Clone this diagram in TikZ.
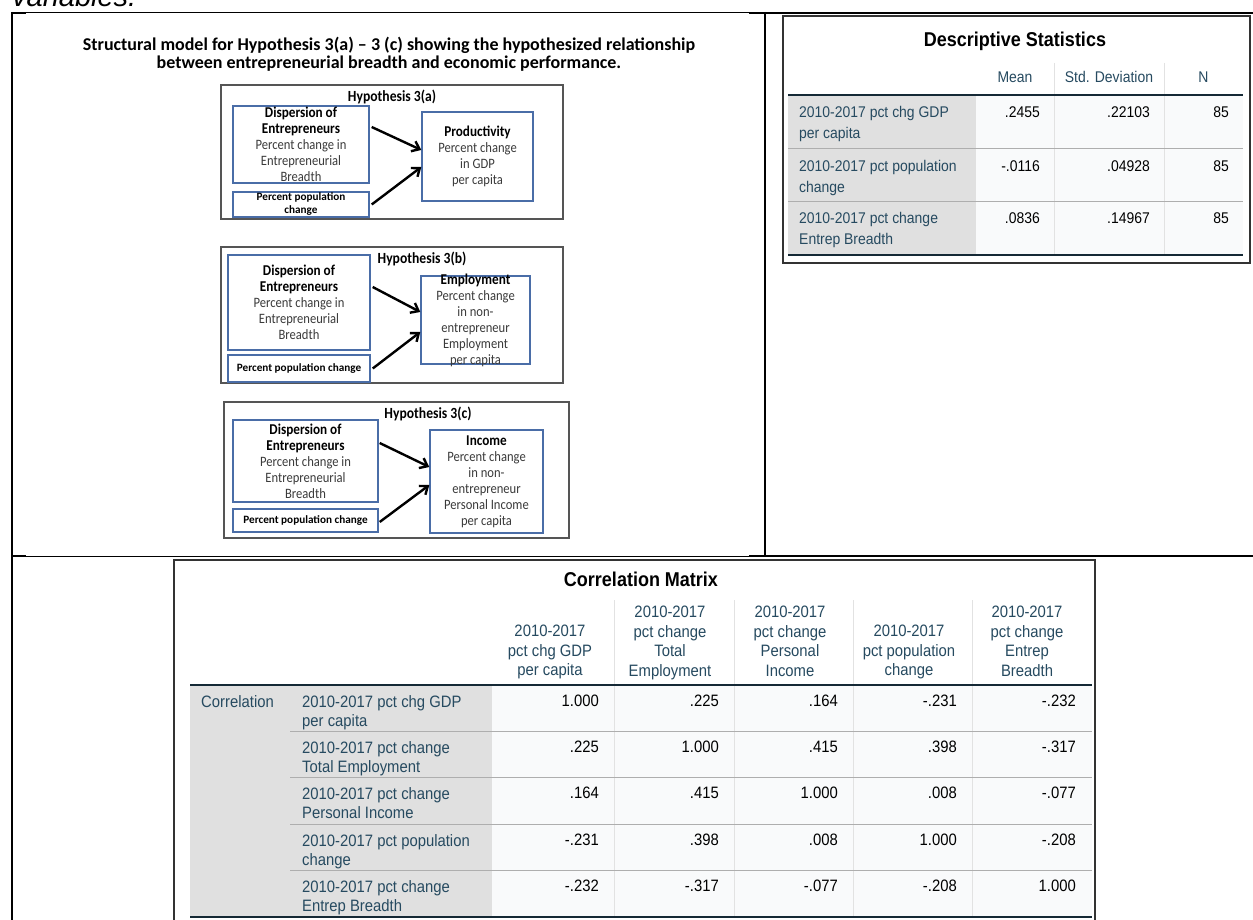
\documentclass[tikz,border=0pt]{standalone}
\usepackage{fontspec}
\setmainfont{Carlito}
\newfontfamily\diagfont[FakeStretch=0.88]{Carlito}
\newfontfamily\spssfont[FakeStretch=0.9]{Liberation Sans}
\newfontfamily\docfont{Liberation Sans}
\usetikzlibrary{arrows.meta}

\definecolor{hypBlue}{HTML}{4A6DA7}
\definecolor{frameGray}{HTML}{555555}
\definecolor{diagText}{HTML}{3A3A3A}
\definecolor{spssLabel}{HTML}{264A60}
\definecolor{spssGray}{HTML}{E0E0E0}
\definecolor{spssData}{HTML}{F9FAFB}
\definecolor{spssDark}{HTML}{152935}
\definecolor{spssRow}{HTML}{AEAEAE}
\definecolor{spssCol}{HTML}{E2E2E2}
\definecolor{tableFrame}{HTML}{333333}

\newcommand\hb[1]{\textcolor{black}{\fontsize{15}{16}\selectfont\bfseries #1}}

\begin{document}
\begin{tikzpicture}[x=1pt,y=-1pt,
  pagethin/.style={line width=1pt, black},
  pagethick/.style={line width=2.4pt, black},
  hframe/.style={draw=frameGray, line width=1.5pt},
  hbox/.style={draw=hypBlue, line width=1.4pt, inner sep=0pt, fill=white},
  htext/.style={align=center, text=diagText, inner sep=0pt,
    font=\diagfont\fontsize{14.3}{16}\selectfont},
  hsmall/.style={align=center, text=black, inner sep=0pt,
    font=\bfseries\fontsize{11.2}{13}\selectfont},
  htitle/.style={inner sep=0pt, text=black, font=\diagfont\bfseries\fontsize{15.5}{16}\selectfont},
  harrow/.style={-{Straight Barb[length=7pt,width=11pt]}, line width=2.4pt, black},
  tframe/.style={draw=tableFrame, line width=2.2pt},
  darksep/.style={draw=spssDark, line width=1.4pt},
  rowsep/.style={draw=spssRow, line width=1pt},
  colsep/.style={draw=spssCol, line width=1pt},
  dstitle/.style={inner sep=0pt, text=black, font=\spssfont\bfseries\fontsize{20}{24}\selectfont},
  dslab/.style={inner sep=0pt, align=left, text=spssLabel, font=\spssfont\fontsize{15.5}{21}\selectfont},
  dshead/.style={inner sep=0pt, align=center, text=spssLabel, font=\spssfont\fontsize{15.5}{21}\selectfont},
  dsval/.style={inner sep=0pt, text=black, font=\spssfont\fontsize{15.5}{21}\selectfont},
  cmlab/.style={inner sep=0pt, align=left, text=spssLabel, font=\spssfont\fontsize{16.5}{19.5}\selectfont},
  cmhead/.style={inner sep=0pt, align=center, text=spssLabel, font=\spssfont\fontsize{16.5}{19.5}\selectfont},
  cmval/.style={inner sep=0pt, text=black, font=\spssfont\fontsize{16.5}{19.5}\selectfont}
]
\clip (0,0) rectangle (1253,920);
\fill[white] (0,0) rectangle (1253,920);

% running text above the layout table
\node[anchor=base west, inner sep=0pt, font=\docfont\itshape\fontsize{29}{34}\selectfont] (prev) at (12,7) {variables.};

% layout table rules
\draw[pagethin] (12,13) -- (749,13);
\draw[pagethick] (749,13) -- (1253,13);
\draw[pagethick] (11,13) -- (26,13);
\draw[pagethin] (12,556) -- (749,556);
\draw[pagethick] (749,556) -- (1253,556);
\draw[pagethick] (11,556) -- (26,556);
\draw[pagethick] (12,12) -- (12,920);
\draw[pagethick] (765,12) -- (765,557);

% ---------- structural model ----------
\node[align=center, inner sep=0pt, text=black, font=\bfseries\fontsize{18}{18}\selectfont] (heading) at (389,54)
  {Structural model for Hypothesis 3(a) -- 3 (c) showing the hypothesized relationship\\
   between entrepreneurial breadth and economic performance.};

% Hypothesis 3(a)
\draw[hframe] (221,85) rectangle (563,219);
\node[htitle] (ta) at (392,97) {Hypothesis 3(a)};
\node[hbox, minimum width=136pt, minimum height=77pt] (da) at (301,144.5) {};
\node[htext] (dat) at (da) {\hb{Dispersion of}\\\hb{Entrepreneurs}\\Percent change in\\Entrepreneurial\\Breadth};
\node[hbox, minimum width=136pt, minimum height=25pt] (pa) at (301,204.5) {};
\node[hsmall] (pat) at (pa) {Percent population\\change};
\node[hbox, minimum width=111pt, minimum height=89pt] (oa) at (477.5,156.5) {};
\node[htext] (oat) at (oa) {\hb{Productivity}\\Percent change\\in GDP\\per capita};
\draw[harrow] ([xshift=2pt,yshift=17.5pt]da.east) -- ([yshift=6.5pt]oa.west);
\draw[harrow] ([xshift=2pt]pa.east) -- ([yshift=-10.5pt]oa.west);

% Hypothesis 3(b)
\draw[hframe] (221,247) rectangle (563,383);
\node[htitle] (tb) at (422,259) {Hypothesis 3(b)};
\node[hbox, minimum width=142pt, minimum height=95pt] (db) at (299,302.5) {};
\node[htext] (dbt) at (db) {\hb{Dispersion of}\\\hb{Entrepreneurs}\\Percent change in\\Entrepreneurial\\Breadth};
\node[hbox, minimum width=142pt, minimum height=27pt] (pb) at (299,368.5) {};
\node[hsmall] (pbt) at (pb) {Percent population change};
\node[hbox, minimum width=109pt, minimum height=88pt] (ob) at (475.5,320) {};
\node[htext] (obt) at (ob) {\hb{Employment}\\Percent change\\in non-\\entrepreneur\\Employment\\per capita};
\draw[harrow] ([xshift=2pt,yshift=15.5pt]db.east) -- ([yshift=8pt]ob.west);
\draw[harrow] ([xshift=2pt]pb.east) -- ([yshift=-12pt]ob.west);

% Hypothesis 3(c)
\draw[hframe] (224,402) rectangle (569,538);
\node[htitle] (tc) at (428,414) {Hypothesis 3(c)};
\node[hbox, minimum width=145pt, minimum height=82pt] (dc) at (305.5,461) {};
\node[htext] (dct) at (dc) {\hb{Dispersion of}\\\hb{Entrepreneurs}\\Percent change in\\Entrepreneurial\\Breadth};
\node[hbox, minimum width=145pt, minimum height=23pt] (pc) at (305.5,520.5) {};
\node[hsmall] (pct) at (pc) {Percent population change};
\node[hbox, minimum width=113pt, minimum height=103pt] (oc) at (486.5,481.5) {};
\node[htext] (oct) at (oc) {\hb{Income}\\Percent change\\in non-\\entrepreneur\\Personal Income\\per capita};
\draw[harrow] ([xshift=1pt,yshift=18pt]dc.east) -- ([yshift=14.5pt]oc.west);
\draw[harrow] ([xshift=1pt,yshift=-1.5pt]pc.east) -- ([yshift=-3.5pt]oc.west);

% ---------- Descriptive Statistics ----------
\fill[spssGray] (788,95) rectangle (976,255);
\fill[spssData] (976,95) rectangle (1243,255);
\draw[colsep] (1054,63) -- (1054,255);
\draw[colsep] (1164,63) -- (1164,255);
\draw[rowsep] (788,148.5) -- (1243,148.5);
\draw[rowsep] (788,202) -- (1243,202);
\draw[darksep] (788,95) -- (1243,95);
\draw[darksep] (788,255) -- (1243,255);
\draw[tframe] (783,16) rectangle (1250,263);
\node[dstitle] (dsT) at (1015,41) {Descriptive Statistics};
\node[dshead] (dsH1) at (1015,77) {Mean};
\node[dshead] (dsH2) at (1109,77) {Std. Deviation};
\node[dshead] (dsH3) at (1203.5,77) {N};
\node[dslab, anchor=north west] (dsL1) at (799,106.4) {2010-2017 pct chg GDP\\per capita};
\node[dslab, anchor=north west] (dsL2) at (799,160.4) {2010-2017 pct population\\change};
\node[dslab, anchor=north west] (dsL3) at (799,212.4) {2010-2017 pct change\\Entrep Breadth};
\foreach \ty/\m/\s/\n [count=\i] in {106.4/.2455/.22103/85, 160.4/-.0116/.04928/85, 212.4/.0836/.14967/85} {
  \node[dsval, anchor=north east] (dsM\i) at (1040,\ty) {\m};
  \node[dsval, anchor=north east] (dsS\i) at (1150,\ty) {\s};
  \node[dsval, anchor=north east] (dsN\i) at (1229,\ty) {\n};
}

% ---------- Correlation Matrix ----------
\fill[spssGray] (190,685) rectangle (492,917);
\fill[spssData] (492,685) rectangle (1092,917);
\foreach \cx in {614,734,853,972} { \draw[colsep] (\cx,600) -- (\cx,917); }
\foreach \ry in {731,777,824,870} { \draw[rowsep] (290,\ry) -- (1092,\ry); }
\draw[darksep] (190,685) -- (1092,685);
\draw[darksep] (190,917) -- (1092,917);
\draw[tframe] (174,560) rectangle (1095,960);
\node[dstitle] (cmT) at (641,579) {Correlation Matrix};
\node[cmhead, anchor=north] (cmH1) at (550,625) {2010-2017\\pct chg GDP\\per capita};
\node[cmhead, anchor=north] (cmH2) at (670,606) {2010-2017\\pct change\\Total\\Employment};
\node[cmhead, anchor=north] (cmH3) at (790,606) {2010-2017\\pct change\\Personal\\Income};
\node[cmhead, anchor=north] (cmH4) at (909,625) {2010-2017\\pct population\\change};
\node[cmhead, anchor=north] (cmH5) at (1027,606) {2010-2017\\pct change\\Entrep\\Breadth};
\node[cmlab, anchor=north west] (cmC) at (201,695) {Correlation};
\foreach \ty/\lab/\vals [count=\r] in {
    695/{2010-2017 pct chg GDP\\per capita}/{1.000,.225,.164,-.231,-.232},
    741/{2010-2017 pct change\\Total Employment}/{.225,1.000,.415,.398,-.317},
    787/{2010-2017 pct change\\Personal Income}/{.164,.415,1.000,.008,-.077},
    834/{2010-2017 pct population\\change}/{-.231,.398,.008,1.000,-.208},
    880/{2010-2017 pct change\\Entrep Breadth}/{-.232,-.317,-.077,-.208,1.000}} {
  \node[cmlab, anchor=north west] (cmL\r) at (302,\ty) {\lab};
  \foreach \v [count=\c] in \vals {
    \pgfmathsetmacro\vx{{599,719,838,957,1076}[\c-1]}
    \node[cmval, anchor=north east] (cmV\r\c) at (\vx,\ty) {\v};
  }
}
\end{tikzpicture}
\end{document}
